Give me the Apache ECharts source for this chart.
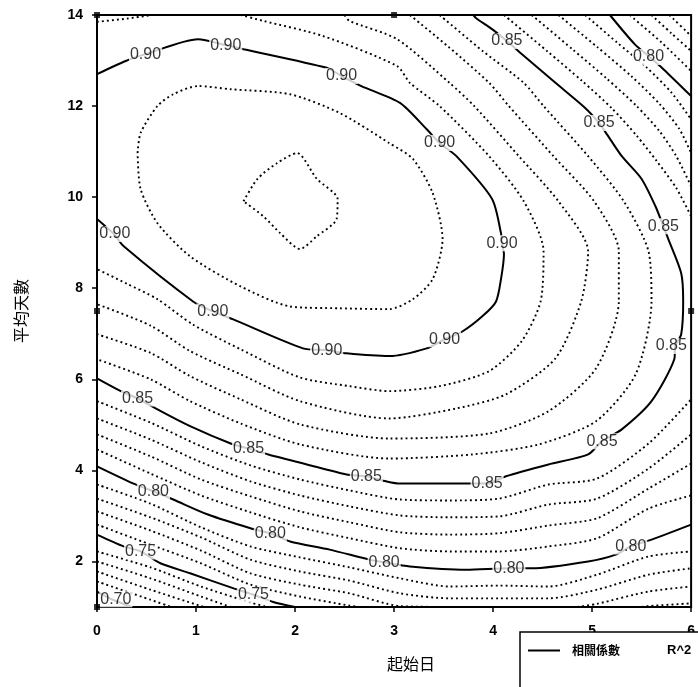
<!DOCTYPE html>
<html><head><meta charset="utf-8">
<script src="https://cdn.jsdelivr.net/npm/echarts@6/dist/echarts.min.js"></script>
<style>html,body{margin:0;padding:0;background:#fff}#chart{width:698px;height:687px}</style>
</head><body><div id="chart"></div>
<script>
// ---- axes ----
const xTicks = [0, 1, 2, 3, 4, 5, 6];
const yTicks = [2, 4, 6, 8, 10, 12, 14];
const xTitle = '起始日';
const yTitle = '平均天數';
const legendName = '相關係數 R^2';

// ---- contour lines (x = 起始日, y = 平均天數) ----
const c92 = [[1.48,9.91],[1.62,10.40],[1.82,10.75],[2.02,10.97],[2.22,10.40],[2.43,9.96],[2.42,9.52],[2.22,9.14],[2.05,8.86],[1.85,9.21],[1.68,9.58],[1.48,9.91]];
const c91 = [[0.41,10.97],[0.44,11.41],[0.61,12.00],[0.77,12.26],[1.02,12.44],[1.35,12.37],[1.95,12.26],[2.45,11.85],[2.95,11.19],[3.19,10.84],[3.39,10.09],[3.49,9.08],[3.39,8.20],[3.19,7.76],[2.95,7.54],[2.45,7.56],[1.95,7.60],[1.45,8.04],[0.94,8.70],[0.61,9.43],[0.44,10.18],[0.41,10.97]];
const c90 = [[0,12.70],[0.29,12.99],[0.49,13.14],[1.02,13.47],[1.30,13.34],[1.48,13.25],[2.32,12.84],[2.47,12.66],[2.67,12.44],[3.06,12.07],[3.33,11.49],[3.46,11.19],[3.63,10.90],[3.99,9.96],[4.08,9.21],[4.09,8.99],[4.11,8.75],[4.08,8.20],[4.03,7.71],[3.90,7.40],[3.69,7.05],[3.51,6.88],[3.33,6.68],[2.95,6.51],[2.52,6.57],[2.32,6.64],[2.08,6.68],[1.37,7.32],[1.17,7.49],[0.97,7.71],[0.27,8.92],[0.17,9.19],[0,9.52]];
const c89a = [[0,13.85],[0.30,13.92],[0.55,14.0]];
const c89b = [[1.45,14.0],[1.68,13.87],[2.28,13.54],[3.03,12.88],[3.16,12.51],[3.46,12.0],[3.96,10.90],[4.31,9.91],[4.51,8.81],[4.48,7.71],[4.29,6.84],[3.96,6.18],[3.46,5.85],[2.95,5.74],[2.55,5.85],[2.05,6.04],[1.45,6.66],[0.97,7.20],[0.61,7.76],[0.30,8.10],[0,8.42]];
const c88 = [[2.50,14.0],[2.55,13.87],[3.03,13.47],[3.56,12.51],[3.81,12.0],[4.26,10.90],[4.66,9.91],[4.96,8.81],[4.89,7.71],[4.63,6.46],[4.13,5.67],[3.63,5.36],[2.95,5.14],[2.05,5.52],[1.45,6.11],[0.94,6.62],[0.54,7.18],[0,7.65]];
const c87 = [[3.16,14.0],[3.55,13.30],[3.96,12.51],[4.16,12.0],[4.61,10.90],[5.02,9.91],[5.27,8.81],[5.27,7.71],[5.04,6.24],[4.56,5.30],[3.96,4.81],[2.95,4.70],[2.05,5.01],[1.45,5.56],[0.94,6.07],[0.54,6.58],[0,6.99]];
const c86 = [[3.46,14.0],[3.90,13.20],[4.31,12.51],[4.51,12.0],[4.96,10.90],[5.32,9.91],[5.57,8.81],[5.60,7.71],[5.44,6.11],[5.04,5.08],[4.46,4.57],[3.79,4.35],[2.95,4.26],[2.05,4.57],[1.45,5.03],[0.94,5.52],[0.54,6.0],[0,6.44]];
const c85 = [[0,6.02],[0.24,5.74],[0.41,5.58],[0.61,5.34],[0.94,4.97],[1.35,4.59],[1.53,4.48],[1.73,4.35],[2.12,4.13],[2.52,3.91],[2.72,3.87],[2.92,3.76],[3.06,3.71],[3.76,3.71],[3.94,3.71],[4.13,3.87],[4.56,4.13],[4.96,4.35],[5.10,4.64],[5.30,4.90],[5.60,5.52],[5.83,6.44],[5.84,6.73],[5.90,6.99],[5.92,7.71],[5.90,8.33],[5.77,9.08],[5.72,9.36],[5.64,9.80],[5.50,10.40],[5.30,10.90],[5.15,11.38],[5.07,11.63],[4.93,11.96],[4.63,12.51],[4.28,13.16],[4.14,13.43],[3.99,13.69],[3.83,13.93],[3.80,14.0]];
const c84a = [[4.11,14.0],[4.55,13.20],[4.90,12.55],[5.20,11.95],[5.45,11.35],[5.65,10.80],[5.85,10.20],[6,9.58]];
const c84b = [[0,5.52],[0.54,5.05],[1.05,4.53],[1.55,4.11],[2.05,3.80],[2.55,3.56],[3.06,3.36],[3.56,3.34],[4.06,3.38],[4.56,3.69],[5.05,3.82],[5.57,4.59],[6,5.56]];
const c83a = [[4.39,14.0],[4.80,13.25],[5.15,12.60],[5.45,12.0],[5.68,11.45],[5.85,10.90],[6,10.24]];
const c83b = [[0,5.14],[0.54,4.68],[1.05,4.18],[1.55,3.76],[2.05,3.45],[2.55,3.21],[3.06,3.01],[3.56,2.97],[4.06,2.99],[4.56,3.25],[5.05,3.38],[5.57,4.04],[6,4.79]];
const c82a = [[4.66,14.0],[5.05,13.30],[5.40,12.65],[5.68,12.05],[5.88,11.50],[6,10.97]];
const c82b = [[0,4.79],[0.54,4.31],[1.05,3.80],[1.55,3.43],[2.05,3.10],[2.55,2.86],[3.06,2.64],[3.56,2.59],[4.06,2.62],[4.56,2.79],[5.05,2.95],[5.57,3.60],[6,4.15]];
const c81a = [[4.93,14.0],[5.25,13.40],[5.55,12.85],[5.80,12.30],[6,11.71]];
const c81b = [[0,4.46],[0.54,3.93],[1.05,3.45],[1.55,3.08],[2.05,2.75],[2.55,2.51],[3.06,2.29],[3.56,2.22],[4.06,2.22],[4.56,2.33],[5.05,2.51],[5.57,3.16],[6,3.45]];
const c80a = [[5.18,14.0],[5.43,13.36],[5.58,13.08],[5.72,12.81],[6,12.22]];
const c80b = [[0,4.09],[0.37,3.71],[0.57,3.54],[0.77,3.36],[1.12,3.03],[1.55,2.73],[1.75,2.62],[1.95,2.44],[2.35,2.26],[2.75,2.04],[2.90,1.98],[3.16,1.89],[3.73,1.82],[4.16,1.85],[4.39,1.85],[4.96,2.0],[5.24,2.15],[5.39,2.33],[5.60,2.48],[6,2.81]];
const c79a = [[5.38,14.0],[5.70,13.40],[6,12.77]];
const c79b = [[0,3.69],[0.54,3.27],[1.05,2.75],[1.55,2.33],[2.05,2.09],[2.55,1.87],[3.06,1.63],[3.56,1.45],[4.06,1.47],[4.56,1.45],[5.05,1.71],[5.57,2.11],[6,2.22]];
const c78a = [[5.60,14.0],[5.80,13.60],[6,13.21]];
const c78b = [[0,3.38],[0.54,2.97],[1.05,2.53],[1.55,2.04],[2.05,1.78],[2.55,1.58],[3.06,1.30],[3.56,1.19],[4.06,1.19],[4.56,1.19],[5.05,1.38],[5.57,1.71],[6,1.85]];
const c77a = [[5.78,14.0],[6,13.54]];
const c77b = [[0,3.10],[0.54,2.68],[1.05,2.24],[1.55,1.74],[2.05,1.49],[2.55,1.30],[3.06,1.02],[3.60,1.0]];
const c77c = [[4.85,1.0],[5.05,1.07],[5.57,1.34],[6,1.45]];
const c76b = [[0,2.81],[0.54,2.37],[1.05,1.96],[1.55,1.49],[2.05,1.23],[2.55,1.03],[2.65,1.0]];
const c76c = [[5.50,1.0],[5.57,1.02],[6,1.08]];
const c75 = [[0,2.59],[0.27,2.33],[0.44,2.22],[0.64,1.96],[0.94,1.74],[1.38,1.41],[1.58,1.27],[1.78,1.11],[2.0,1.0]];
const c74 = [[0,2.22],[0.54,1.87],[1.05,1.45],[1.55,1.10],[1.72,1.0]];
const c73 = [[0,2.0],[0.54,1.63],[1.05,1.23],[1.35,1.0]];
const c72 = [[0,1.78],[0.54,1.38],[1.05,1.02],[1.08,1.0]];
const c71 = [[0,1.56],[0.54,1.16],[0.75,1.0]];
const c70 = [[0,1.34],[0.16,1.16],[0.35,1.0]];

// solid (labelled) levels and dotted (intermediate) levels
const solidLines = [c90, c85, c80a, c80b, c75, c70];
const dottedLines = [c92, c91, c89a, c89b, c88, c87, c86, c84a, c84b, c83a, c83b, c82a, c82b, c81a, c81b,
  c79a, c79b, c78a, c78b, c77a, c77b, c77c, c76b, c76c, c74, c73, c72, c71];

// ---- contour labels ----
const labels90 = [[0.49,13.12],[1.30,13.32],[2.47,12.66],[3.46,11.19],[4.09,8.99],[3.51,6.88],[2.32,6.64],[1.17,7.49],[0.18,9.19]];
const labels85 = [[4.14,13.43],[5.07,11.63],[5.72,9.36],[5.80,6.73],[5.10,4.64],[3.94,3.71],[2.72,3.87],[1.53,4.48],[0.41,5.58]];
const labels80 = [[5.57,13.08],[0.57,3.54],[1.75,2.62],[2.90,1.98],[4.16,1.85],[5.39,2.33]];
const labels75 = [[0.44,2.22],[1.58,1.27]];
const labels70 = [[0.19,1.17]];
const labelSets = [['0.90', labels90], ['0.85', labels85], ['0.80', labels80], ['0.75', labels75], ['0.70', labels70]];

// small frame markers
const frameMarks = [[0,7.5],[6,7.5],[3,14],[0,14],[0,1]];

const series = [];
solidLines.forEach(d => series.push({
  type: 'line', name: legendName, data: d, symbol: 'none', smooth: 0.25, silent: true, clip: true, z: 2,
  itemStyle: { color: '#000' },
  lineStyle: { color: '#000', width: 2, type: 'solid' }
}));
dottedLines.forEach(d => series.push({
  type: 'line', name: 'dotted', data: d, symbol: 'none', smooth: 0.25, silent: true, clip: true, z: 2,
  itemStyle: { color: '#000' },
  lineStyle: { color: '#000', width: 1.9, type: [1.9, 3.1] }
}));
labelSets.forEach(([txt, d]) => series.push({
  type: 'scatter', name: 'lbl' + txt, data: d, symbolSize: 1, silent: true, clip: false, z: 5,
  itemStyle: { color: 'rgba(0,0,0,0)' },
  label: { show: true, position: 'inside', formatter: txt, color: '#000', fontSize: 16,
    fontFamily: 'Liberation Sans, Arial, sans-serif', backgroundColor: '#fff', padding: [0, 1] }
}));
series.push({
  type: 'scatter', name: 'marks', data: frameMarks, symbol: 'rect', symbolSize: 6, silent: true, clip: false, z: 6,
  itemStyle: { color: '#000' }
});

const chart = echarts.init(document.getElementById('chart'), null, { renderer: 'canvas' });
chart.setOption({
  animation: false,
  backgroundColor: '#fff',
  grid: { left: 97, right: 4, top: 15, bottom: 80, show: true, borderColor: '#000', borderWidth: 2, backgroundColor: 'transparent' },
  xAxis: {
    type: 'value', min: 0, max: 6, interval: 1,
    name: xTitle, nameLocation: 'middle', nameGap: 49,
    nameTextStyle: { fontFamily: 'Noto Sans CJK TC', fontSize: 16, color: '#000', padding: [0, 0, 0, 34] },
    axisLine: { show: true, lineStyle: { color: '#000', width: 2 } },
    axisTick: { show: true, length: 5, lineStyle: { color: '#000', width: 1.5 } },
    axisLabel: { color: '#000', fontSize: 14, fontWeight: 'bold', fontFamily: 'Liberation Sans, Arial, sans-serif', margin: 17,
      customValues: xTicks },
    splitLine: { show: false }
  },
  yAxis: {
    type: 'value', min: 1, max: 14, interval: 1,
    name: yTitle, nameLocation: 'middle', nameGap: 68, nameRotate: 90,
    nameTextStyle: { fontFamily: 'Noto Sans CJK TC', fontSize: 16, color: '#000' },
    axisLine: { show: true, lineStyle: { color: '#000', width: 2 } },
    axisTick: { show: true, length: 5, lineStyle: { color: '#000', width: 1.5 }, customValues: yTicks },
    axisLabel: { color: '#000', fontSize: 14, fontWeight: 'bold', fontFamily: 'Liberation Sans, Arial, sans-serif', margin: 14,
      customValues: yTicks },
    splitLine: { show: false }
  },
  legend: {
    left: 520, top: 632,
    data: [{ name: legendName, icon: 'rect' }],
    itemWidth: 32, itemHeight: 2,
    padding: [12, 14, 40, 8],
    backgroundColor: '#fff', borderColor: '#000', borderWidth: 1.5,
    selectedMode: false,
    formatter: () => '{a|相關係數}{b|R^2}',
    textStyle: {
      color: '#000',
      rich: {
        a: { fontFamily: 'Noto Sans CJK TC', fontSize: 12, fontWeight: 'bold', color: '#000', width: 95, padding: [0, 0, 0, 7] },
        b: { fontFamily: 'Liberation Sans, Arial, sans-serif', fontSize: 13, fontWeight: 'bold', color: '#000' }
      }
    }
  },
  series: series
});
</script>
</body></html>
